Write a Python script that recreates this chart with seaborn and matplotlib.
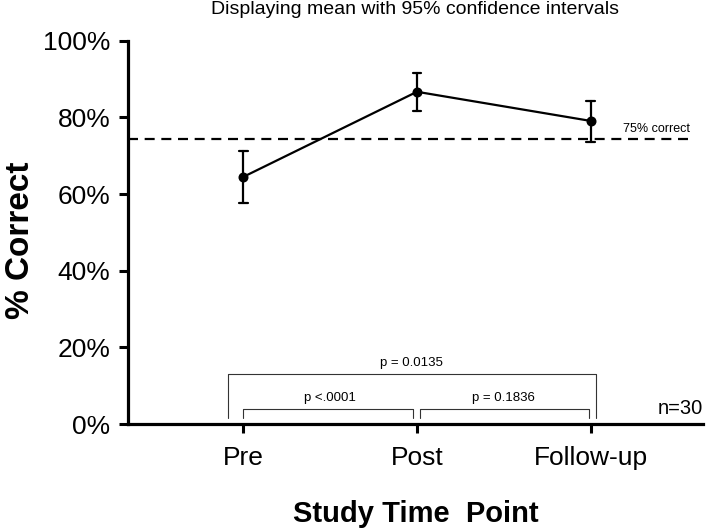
import numpy as np
import pandas as pd
import matplotlib
matplotlib.use('Agg')
import matplotlib.pyplot as plt
import seaborn as sns

# Values (percent correct, mean and 95% CI)
time_points = ['Pre', 'Post', 'Follow-up']
mean_pct = [64.5, 86.7, 79.1]
ci_low = [57.6, 81.8, 73.7]
ci_high = [71.3, 91.5, 84.4]
threshold = 74.4
y_ticks = [0, 20, 40, 60, 80, 100]

# bracket comparisons: (from index, to index, label)
pairs = [(0, 1, 'p <.0001'), (1, 2, 'p = 0.1836')]
overall = (0, 2, 'p = 0.0135')

sns.set_style('ticks')
plt.rcParams['font.family'] = ['Liberation Sans', 'DejaVu Sans']
for key in ('text.color', 'axes.labelcolor', 'xtick.color', 'ytick.color', 'axes.edgecolor'):
    plt.rcParams[key] = 'black'

# long-form table: median of (low, mean, high) is the mean, min..max is the CI
rows = []
for tp, lo, m, hi in zip(time_points, ci_low, mean_pct, ci_high):
    for v in (lo, m, hi):
        rows.append({'time': tp, 'pct': v})
df = pd.DataFrame(rows)

fig = plt.figure(figsize=(7.09, 5.30), dpi=100)
ax = fig.add_axes([0.180, 0.200, 0.812, 0.723])

sns.pointplot(data=df, x='time', y='pct', order=time_points,
              estimator='median', errorbar=('pi', 100),
              color='black', markers='o', markersize=6,
              linewidth=1.6, capsize=0.05,
              err_kws={'linewidth': 1.6}, ax=ax)

ax.axhline(threshold, xmax=0.977, color='black', linestyle=(0, (4.5, 3)),
           linewidth=1.6, zorder=1)
ax.text(2.576, threshold + 1.0, '75% correct', ha='right', va='bottom', fontsize=9)

# significance brackets
lw_b = 0.8
y_base, y_small, y_big = 1.6, 3.9, 13.0
for i, j, lab in pairs:
    x0 = i + (0.015 if i == 1 else 0.0)
    x1 = j - (0.02 if j == 1 else 0.01)
    ax.plot([x0, x0, x1, x1], [y_base, y_small, y_small, y_base],
            color='#333333', lw=lw_b, clip_on=False)
    ax.text((i + j) / 2, y_small + 1.4, lab, ha='center', va='bottom', fontsize=9.5)
i, j, lab = overall
ax.plot([i - 0.09, i - 0.09, j + 0.03, j + 0.03], [y_base, y_big, y_big, y_base],
        color='#333333', lw=lw_b, clip_on=False)
ax.text((i + j) / 2 - 0.03, y_big + 1.4, lab, ha='center', va='bottom', fontsize=9.5)

ax.text(2.65, 1.6, 'n=30', ha='right', va='bottom', fontsize=14.5)

ax.set_xlim(-0.667, 2.65)
ax.set_ylim(0, 100)
ax.set_yticks(y_ticks)
ax.set_yticklabels([f'{t}%' for t in y_ticks], fontsize=19)
ax.set_xticks(range(len(time_points)))
ax.set_xticklabels(time_points, fontsize=19)

sns.despine(ax=ax)
for side in ('left', 'bottom'):
    ax.spines[side].set_linewidth(2.3)
ax.tick_params(axis='y', length=6.5, width=2.2, pad=6)
ax.tick_params(axis='x', length=6.5, width=2.2, pad=9)

ax.set_xlabel('Study Time  Point', fontsize=21, fontweight='bold', labelpad=22)
ax.set_ylabel('% Correct', fontsize=24, fontweight='bold')
ax.yaxis.set_label_coords(-0.160, 0.48)
ax.set_title('Displaying mean with 95% confidence intervals', fontsize=14, pad=19)

fig.savefig('out.png', dpi=100)
